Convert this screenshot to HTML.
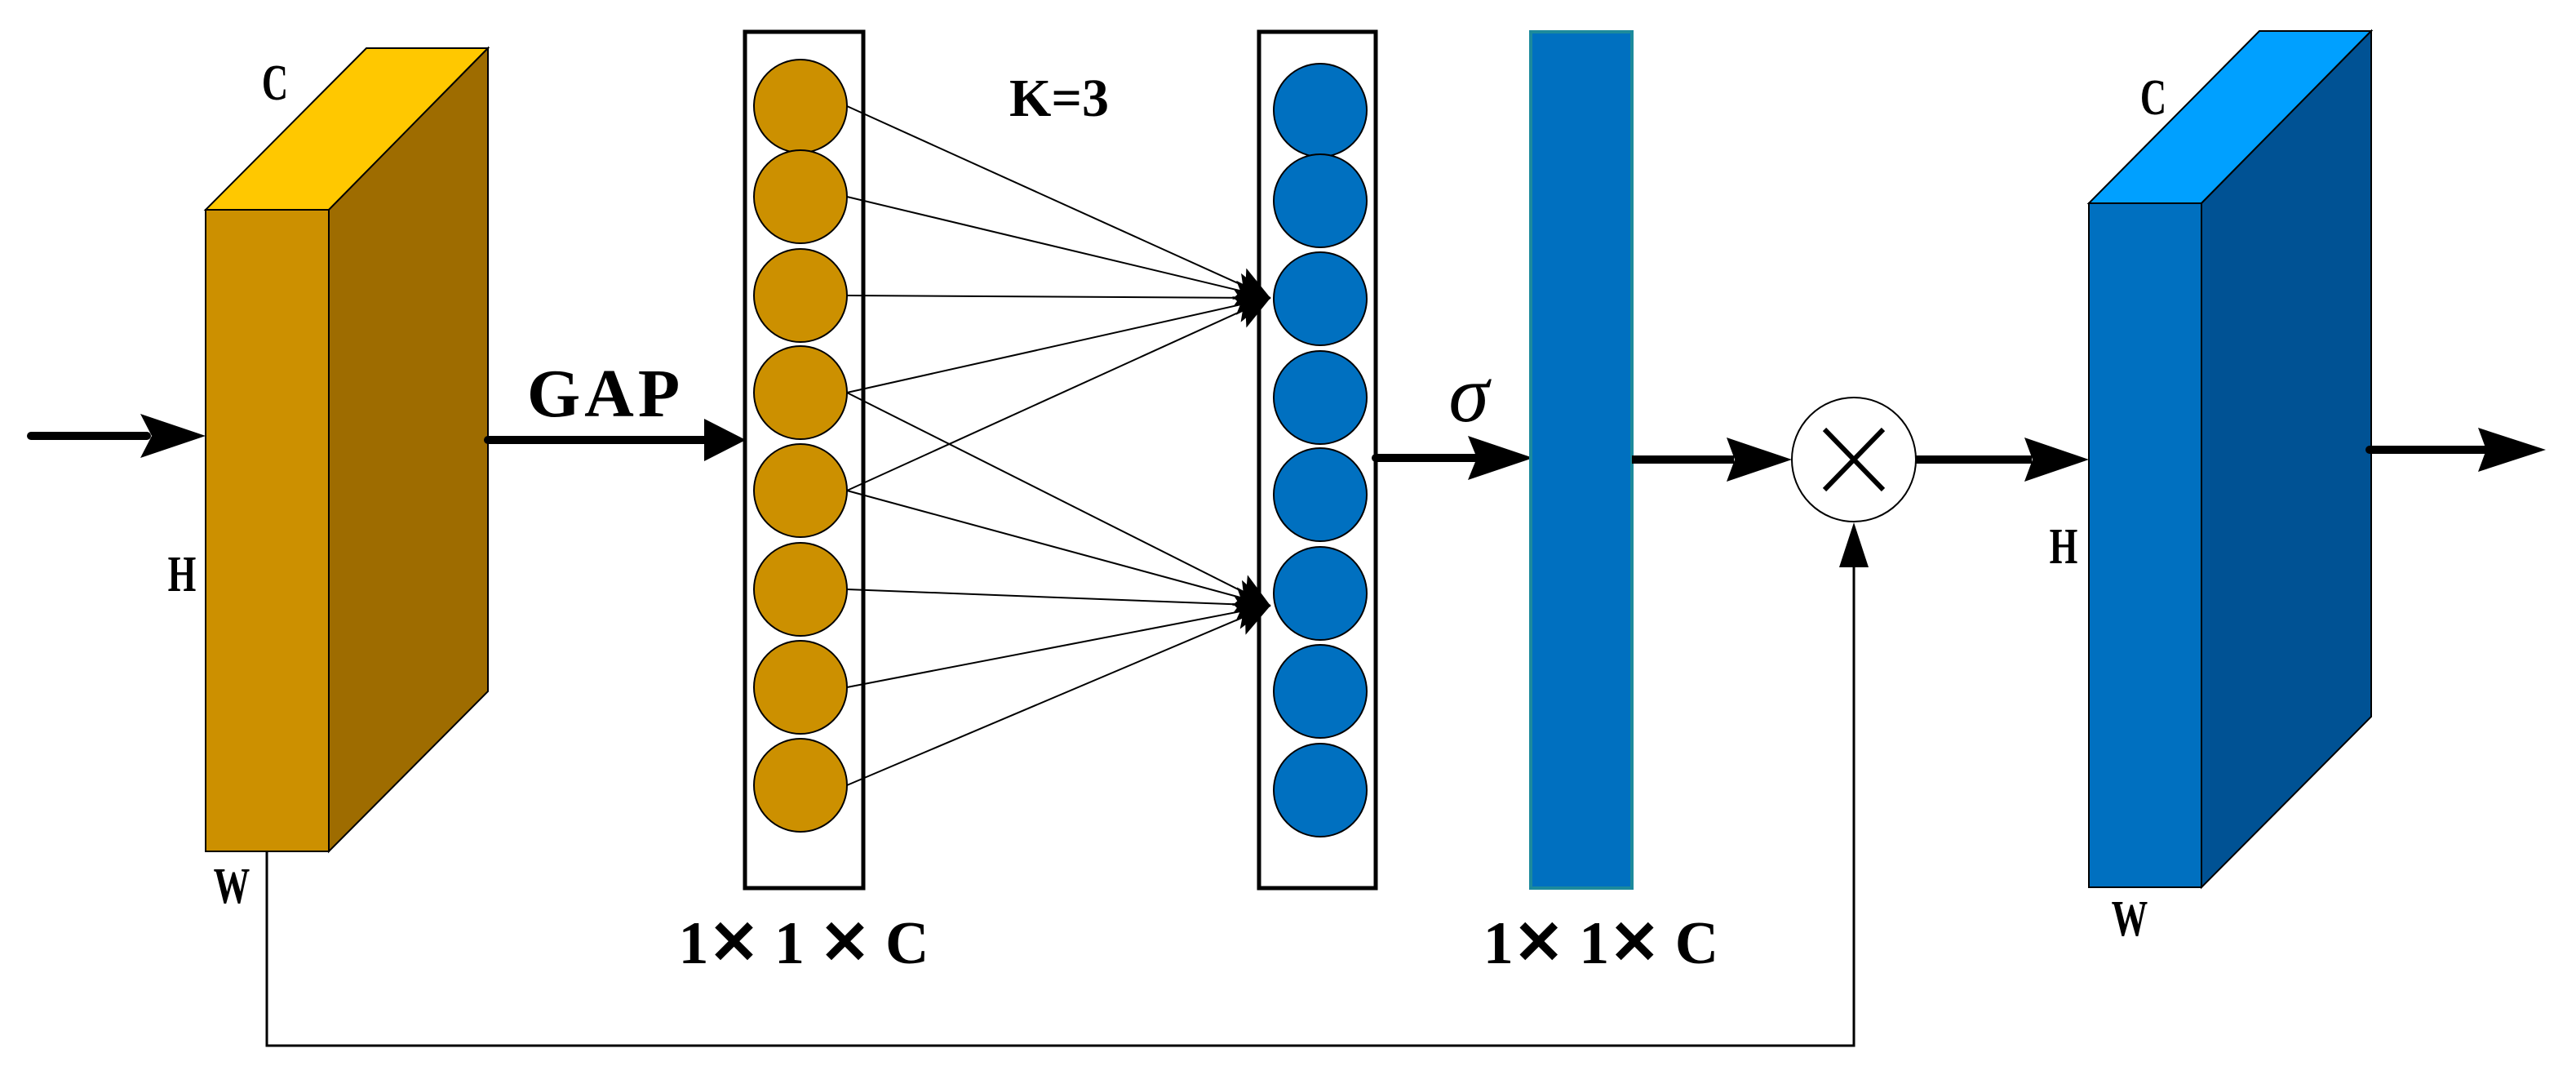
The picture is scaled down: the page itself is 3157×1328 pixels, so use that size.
<!DOCTYPE html>
<html><head><meta charset="utf-8"><style>
html,body{margin:0;padding:0;background:#fff;}
svg{display:block;}
text{font-family:"Liberation Serif",serif;}
</style></head><body>
<svg width="3157" height="1328" viewBox="0 0 3157 1328" xmlns="http://www.w3.org/2000/svg">
<defs>
<marker id="ah" viewBox="0 0 10 10" refX="10" refY="5" markerWidth="42" markerHeight="42" markerUnits="userSpaceOnUse" orient="auto">
<path d="M0,0 L10,5 L0,10 L2,5 Z" fill="#000"/>
</marker>
</defs>
<!-- Yellow block -->
<polygon points="252,257 449,59 598,59 403,257" fill="#FFC800" stroke="#000" stroke-width="2"/>
<polygon points="403,257 598,59 598,847 403,1043" fill="#9E6C00" stroke="#000" stroke-width="2"/>
<rect x="252" y="257" width="151" height="786" fill="#CC9000" stroke="#000" stroke-width="2"/>
<text x="337" y="122" font-size="62" font-weight="bold" text-anchor="middle" transform="translate(337,0) scale(0.72,1) translate(-337,0)">C</text>
<text x="223" y="724" font-size="62" font-weight="bold" text-anchor="middle" transform="translate(223,0) scale(0.72,1) translate(-223,0)">H</text>
<text x="284" y="1106" font-size="62" font-weight="bold" text-anchor="middle" transform="translate(284,0) scale(0.72,1) translate(-284,0)">W</text>

<!-- input arrow -->
<line x1="38" y1="534" x2="180" y2="534" stroke="#000" stroke-width="10" stroke-linecap="round"/>
<polygon points="172,507 252,534 172,561 186,534" fill="#000"/>

<!-- GAP arrow -->
<line x1="598" y1="539" x2="870" y2="539" stroke="#000" stroke-width="10" stroke-linecap="round"/>
<polygon points="863,513 914,539 863,565" fill="#000"/>
<text x="742" y="510" font-size="84" font-weight="bold" text-anchor="middle" letter-spacing="5">GAP</text>

<!-- Box 1 -->
<rect x="913" y="39" width="145" height="1049" fill="none" stroke="#000" stroke-width="5"/>
<g fill="#CC9000" stroke="#000" stroke-width="2">
<ellipse cx="981" cy="130" rx="57" ry="57"/>
<ellipse cx="981" cy="241" rx="57" ry="57"/>
<ellipse cx="981" cy="362" rx="57" ry="57"/>
<ellipse cx="981" cy="481" rx="57" ry="57"/>
<ellipse cx="981" cy="601" rx="57" ry="57"/>
<ellipse cx="981" cy="722" rx="57" ry="57"/>
<ellipse cx="981" cy="842" rx="57" ry="57"/>
<ellipse cx="981" cy="962" rx="57" ry="57"/>
</g>
<text x="985" y="1180" font-size="74" font-weight="bold" text-anchor="middle">1✕ 1 ✕ C</text>
<text x="1298" y="142" font-size="66" font-weight="bold" text-anchor="middle">K=3</text>

<!-- connections -->
<g stroke="#000" stroke-width="2" fill="none" marker-end="url(#ah)">
<line x1="1038" y1="130" x2="1557" y2="365"/>
<line x1="1038" y1="241" x2="1557" y2="365"/>
<line x1="1038" y1="362" x2="1557" y2="365"/>
<line x1="1038" y1="481" x2="1557" y2="365"/>
<line x1="1038" y1="601" x2="1557" y2="365"/>
<line x1="1038" y1="481" x2="1557" y2="742"/>
<line x1="1038" y1="601" x2="1557" y2="742"/>
<line x1="1038" y1="722" x2="1557" y2="742"/>
<line x1="1038" y1="842" x2="1557" y2="742"/>
<line x1="1038" y1="962" x2="1557" y2="742"/>
</g>

<!-- Box 2 -->
<rect x="1543" y="39" width="143" height="1049" fill="none" stroke="#000" stroke-width="5"/>
<g fill="#0070C0" stroke="#000" stroke-width="2">
<ellipse cx="1618" cy="135" rx="57" ry="57"/>
<ellipse cx="1618" cy="246" rx="57" ry="57"/>
<ellipse cx="1618" cy="366" rx="57" ry="57"/>
<ellipse cx="1618" cy="487" rx="57" ry="57"/>
<ellipse cx="1618" cy="606" rx="57" ry="57"/>
<ellipse cx="1618" cy="727" rx="57" ry="57"/>
<ellipse cx="1618" cy="847" rx="57" ry="57"/>
<ellipse cx="1618" cy="968" rx="57" ry="57"/>
</g>

<!-- sigma arrow -->
<line x1="1686" y1="561" x2="1810" y2="561" stroke="#000" stroke-width="10" stroke-linecap="round"/>
<polygon points="1799,534 1879,561 1799,588 1810,561" fill="#000"/>
<text x="1800" y="516" font-size="100" font-style="italic" text-anchor="middle">σ</text>

<!-- Blue bar -->
<rect x="1876" y="39" width="124" height="1049" fill="#0070C0" stroke="#1C8A9C" stroke-width="4"/>
<text x="1962" y="1180" font-size="74" font-weight="bold" text-anchor="middle">1✕ 1✕ C</text>

<!-- arrow to multiply -->
<line x1="2000" y1="563" x2="2125" y2="563" stroke="#000" stroke-width="10"/>
<polygon points="2116,536 2196,563 2116,590 2126,563" fill="#000"/>
<ellipse cx="2272" cy="563" rx="76" ry="76" fill="#fff" stroke="#000" stroke-width="2"/>
<line x1="2236" y1="526" x2="2308" y2="600" stroke="#000" stroke-width="6"/>
<line x1="2308" y1="526" x2="2236" y2="600" stroke="#000" stroke-width="6"/>
<line x1="2348" y1="563" x2="2490" y2="563" stroke="#000" stroke-width="10"/>
<polygon points="2481,536 2560,563 2481,590 2491,563" fill="#000"/>

<!-- skip connection -->
<polyline points="327,1043 327,1281 2272,1281 2272,690" fill="none" stroke="#000" stroke-width="3"/>
<polygon points="2254,695 2272,640 2290,695" fill="#000"/>

<!-- Blue block -->
<polygon points="2560,249 2769,38 2906,38 2698,249" fill="#00A0FF" stroke="#000" stroke-width="2"/>
<polygon points="2698,249 2906,38 2906,878 2698,1087" fill="#005294" stroke="#000" stroke-width="2"/>
<rect x="2560" y="249" width="138" height="838" fill="#0070C0" stroke="#000" stroke-width="2"/>
<text x="2639" y="140" font-size="62" font-weight="bold" text-anchor="middle" transform="translate(2639,0) scale(0.72,1) translate(-2639,0)">C</text>
<text x="2529" y="690" font-size="62" font-weight="bold" text-anchor="middle" transform="translate(2529,0) scale(0.72,1) translate(-2529,0)">H</text>
<text x="2610" y="1146" font-size="62" font-weight="bold" text-anchor="middle" transform="translate(2610,0) scale(0.72,1) translate(-2610,0)">W</text>

<!-- output arrow -->
<line x1="2904" y1="551" x2="3045" y2="551" stroke="#000" stroke-width="10" stroke-linecap="round"/>
<polygon points="3037,524 3120,551 3037,578 3047,551" fill="#000"/>
</svg>
</body></html>
